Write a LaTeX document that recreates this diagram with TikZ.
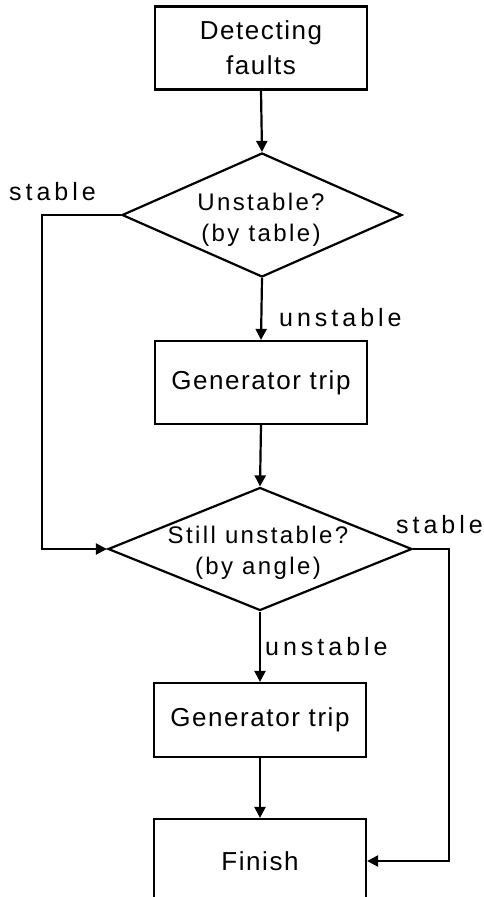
\documentclass[tikz,border=0pt]{standalone}
\usepackage{fontspec}
\setmainfont{Liberation Sans}
\newfontfamily\boxfont{Liberation Sans}[LetterSpace=6]
\newfontfamily\decfont{Liberation Sans}[LetterSpace=10]
\newfontfamily\lblfont{Liberation Sans}[LetterSpace=16]
\usetikzlibrary{shapes.geometric,arrows.meta}

\begin{document}
\begin{tikzpicture}[x=1pt,y=-1pt,
  line width=2.2pt,
  stepbox/.style={draw,rectangle,minimum width=212pt,minimum height=83pt,inner sep=0pt,
    align=center,font=\boxfont\fontsize{26}{35}\selectfont},
  decision/.style={draw,diamond,inner sep=0pt},
  dtext/.style={align=center,inner sep=0pt,font=\decfont\fontsize{24}{31}\selectfont},
  lbl/.style={inner sep=0pt,anchor=base west,font=\lblfont\fontsize{25}{28}\selectfont},
  arr/.style={-{Triangle[length=11pt,width=11pt]}}]

\useasboundingbox (0,0) rectangle (484,897);
\fill[white] (0,0) rectangle (484,897);

% process boxes
\node[stepbox] (detect) at (261,48) {Detecting\\faults};
\node[stepbox] (trip1) at (261,382.5) {Generator trip};
\node[stepbox,minimum height=74pt] (trip2) at (260,720) {Generator trip};
\node[stepbox,minimum height=84pt] (finish) at (260,861) {Finish};

% decisions
\node[decision,minimum width=280pt,minimum height=124pt] (dec1) at (262,215) {};
\node[dtext] (dec1t) at (261,220) {Unstable?\\(by table)};
\node[decision,minimum width=304pt,minimum height=123pt] (dec2) at (260,549) {};
\node[dtext] (dec2t) at (258,553) {Still unstable?\\(by angle)};

% branch labels
\node[lbl] (stableL) at (8,200) {stable};
\node[lbl] (unst1) at (278,326) {unstable};
\node[lbl] (unst2) at (264,655) {unstable};
\node[lbl] (stableR) at (395,533) {stable};

% bypass corners
\coordinate (ltop) at (42,215);
\coordinate (lbot) at (42,549);
\coordinate (rtop) at (449,549);
\coordinate (rbot) at (449,861);

% main flow
\draw[arr] (detect.south) -- (dec1.north);
\draw[arr] (dec1.south) -- (trip1.north);
\draw[arr] (trip1.south) -- (dec2.north);
\draw[arr] (dec2.south) -- (trip2.north);
\draw[arr] (trip2.south) -- (finish.north);

% stable branches
\draw[arr] (dec1.west) -- (ltop) -- (lbot) -- (dec2.west);
\draw[arr] (dec2.east) -- (rtop) -- (rbot) -- (finish.east);
\end{tikzpicture}
\end{document}
